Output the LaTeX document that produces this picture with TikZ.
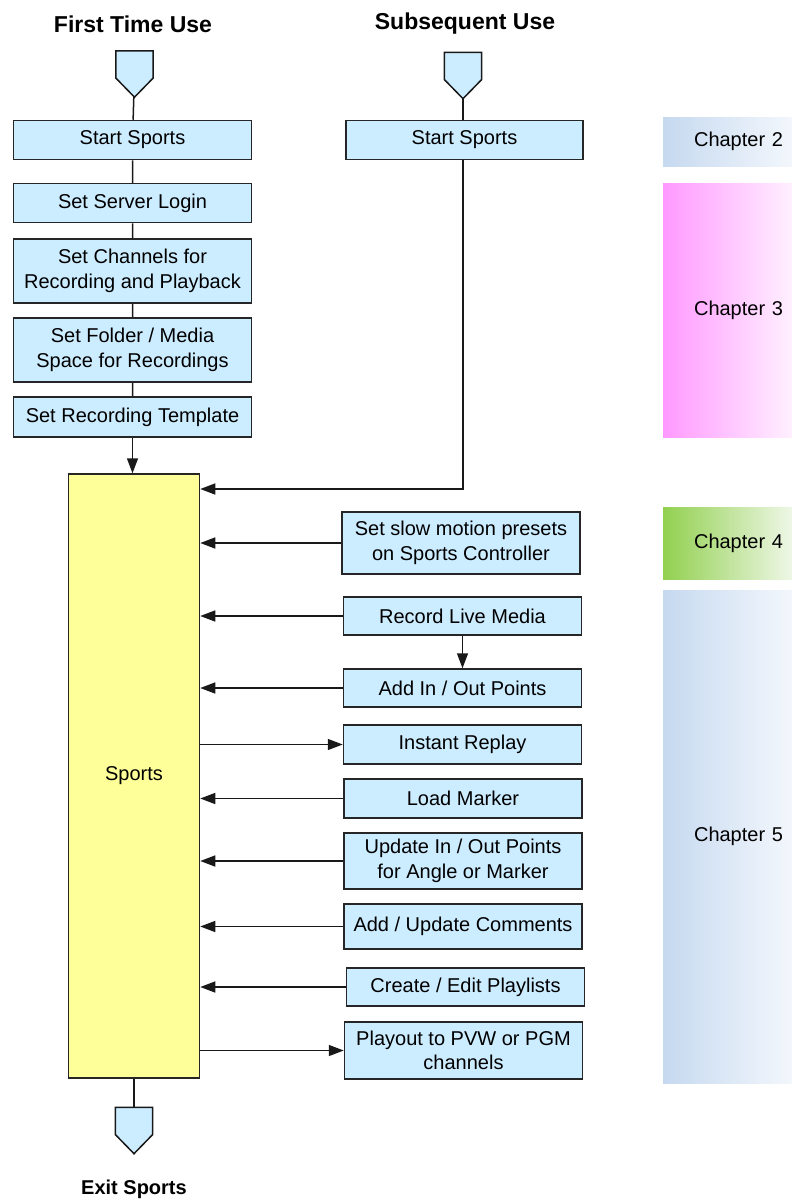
\documentclass[tikz,border=0pt]{standalone}
\usepackage{fontspec}
\setmainfont{Liberation Sans}
\usetikzlibrary{arrows.meta}
\definecolor{boxblue}{HTML}{CCECFF}
\definecolor{sportsyellow}{HTML}{FFFF99}
\definecolor{chblue}{HTML}{C6D9F0}
\definecolor{chblueend}{HTML}{F3F7FC}
\definecolor{chpink}{HTML}{FF99FF}
\definecolor{chpinkend}{HTML}{FFF0FF}
\definecolor{chgreen}{HTML}{92D050}
\definecolor{chgreenend}{HTML}{EEF7E6}
\begin{document}
\begin{tikzpicture}[x=1pt, y=-1pt,
    every node/.style={font=\fontsize{20}{24.5}\selectfont, inner sep=0pt},
    stepbox/.style={draw=black!85, line width=1.5pt, fill=boxblue, minimum width=238pt, align=center},
    heading/.style={font=\fontsize{23}{27}\selectfont\bfseries, anchor=base},
    chap/.style={minimum width=129pt, text width=111pt, inner xsep=9pt, align=right, shading=axis, shading angle=90},
    link/.style={line width=1.5pt, draw=black!90},
    arr/.style={link, -{Triangle[length=15pt,width=11pt]}}]
    \useasboundingbox (0,0) rectangle (792,1199);
    % chapters
    \node[chap, left color=chblue, right color=chblueend, minimum height=49pt] (ch2) at (727.5,141.5) {Chapter 2};
    \node[chap, left color=chpink, right color=chpinkend, minimum height=254pt] (ch3) at (727.5,310) {Chapter 3};
    \node[chap, left color=chgreen, right color=chgreenend, minimum height=72pt] (ch4) at (727.5,543) {Chapter 4};
    \node[chap, left color=chblue, right color=chblueend, minimum height=493pt] (ch5) at (727.5,836.5) {Chapter 5};
    % headings
    \node[heading] (firstuse) at (133,33) {First Time Use};
    \node[heading] (nextuse) at (465,30) {Subsequent Use};
    \node[heading, font=\fontsize{20}{24}\selectfont\bfseries] (exittext) at (134,1194) {Exit Sports};
    % off-page connectors
    \foreach \p/\x/\y in {startL/134.5/74, startR/463/75.5, exitP/134/1130.5} {
        \node[minimum width=37pt, minimum height=46pt] (\p) at (\x,\y) {};
        \draw[link, fill=boxblue] (\p.north west) -- (\p.north east) -- ([yshift=-4pt]\p.east) -- (\p.south) -- ([yshift=-4pt]\p.west) -- cycle;
    }
    % first time use
    \foreach \n/\y/\h/\t in {s1/140/39/{Start Sports}, s2/203/39/{Set Server Login},
        s3/271/64/{Set Channels for\\Recording and Playback}, s4/350/64/{Set Folder / Media\\Space for Recordings},
        s5/417/40/{Set Recording Template}} {
        \node[stepbox, minimum height=\h pt] (\n) at (132.5,\y) {\t};
    }
    \node[stepbox, minimum width=237pt, minimum height=39pt] (sR) at (464.5,140) {Start Sports};
    \node[draw=black!85, line width=1.5pt, fill=sportsyellow, minimum width=131pt, minimum height=604pt] (sports) at (134,776) {Sports};
    % tasks
    \foreach \n/\x/\y/\h/\t in {slow/461/543/62/{Set slow motion presets\\on Sports Controller},
        record/462.5/616/38/{Record Live Media}, addio/462.5/688/38/{Add In / Out Points},
        replay/462.5/744.5/39/{Instant Replay}, marker/463/798.5/39/{Load Marker},
        update/463/861/56/{Update In / Out Points\\for Angle or Marker}, comments/463/926.5/45/{Add / Update Comments},
        playlists/465.5/987/38/{Create / Edit Playlists}, playout/463.5/1050.5/57/{Playout to PVW or PGM\\channels}} {
        \node[stepbox, minimum height=\h pt] (\n) at (\x,\y) {\t};
    }
    % connectors
    \draw[link] (startL) -- (s1) -- (s2) -- (s3) -- (s4) -- (s5);
    \draw[arr] (s5) -- (s5 |- sports.north);
    \draw[link] (startR) -- (startR |- sR.north);
    \coordinate (join) at (463,489);
    \draw[arr] (sR.south -| join) -- (join) -- (join -| sports.east);
    \draw[arr] (record.south -| 462.5,0) -- (addio.north -| 462.5,0);
    \foreach \n in {slow,record,addio,marker,update,comments,playlists}
        \draw[arr] (\n.west) -- (\n.west -| sports.east);
    \foreach \n in {replay,playout}
        \draw[arr] (\n.west -| sports.east) -- (\n.west);
    \draw[link] (sports) -- (exitP);
\end{tikzpicture}
\end{document}
